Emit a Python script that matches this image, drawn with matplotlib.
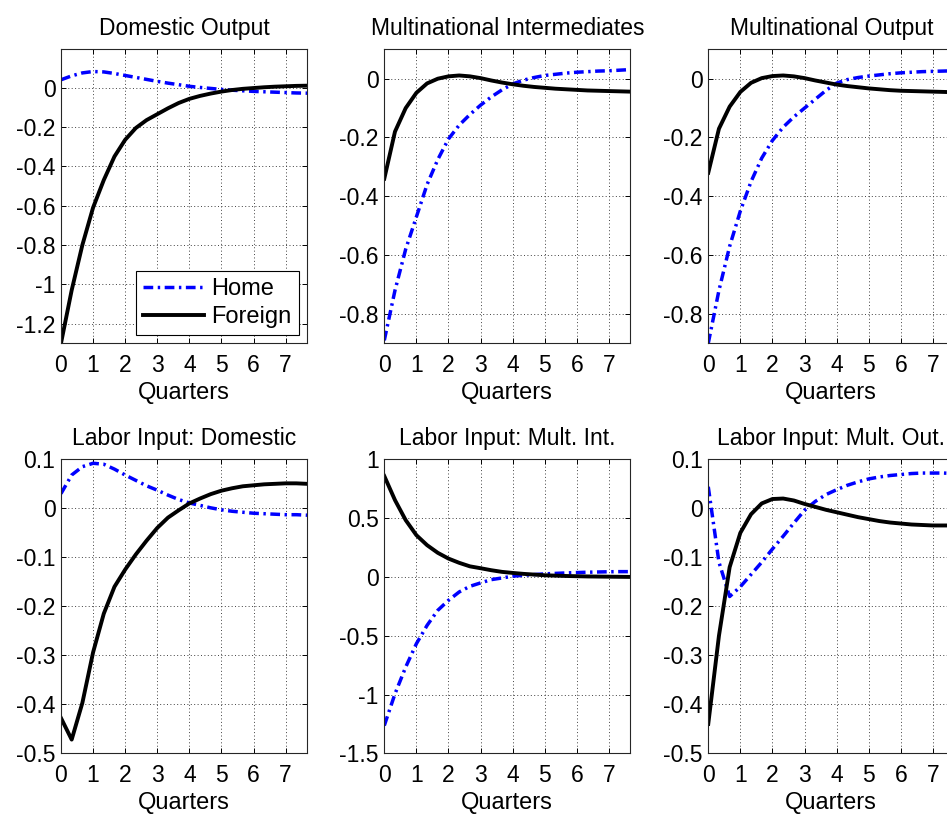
import numpy as np
import matplotlib
matplotlib.use('Agg')
import matplotlib.pyplot as plt
from matplotlib.ticker import MultipleLocator, FuncFormatter

plt.rcParams['font.family'] = ['Liberation Sans', 'DejaVu Sans']

# monthly points, shown in quarters
months = np.arange(24)
quarters = months / 3.0

titles = ['Domestic Output', 'Multinational Intermediates', 'Multinational Output',
          'Labor Input: Domestic', 'Labor Input: Mult. Int.', 'Labor Input: Mult. Out.']

dom_out_home = [0.040, 0.060, 0.075, 0.082, 0.080, 0.072, 0.062, 0.052, 0.042, 0.032, 0.023, 0.015,
                0.007, 0.001, -0.004, -0.009, -0.013, -0.016, -0.019, -0.021, -0.023, -0.025, -0.027, -0.028]
dom_out_foreign = [-1.30, -1.03, -0.80, -0.61, -0.47, -0.35, -0.265, -0.205, -0.165, -0.135, -0.105, -0.078,
                   -0.057, -0.042, -0.030, -0.020, -0.012, -0.006, -0.002, 0.002, 0.005, 0.007, 0.009, 0.010]

mult_int_home = [-0.89, -0.72, -0.58, -0.47, -0.36, -0.275, -0.205, -0.158, -0.122, -0.090, -0.062, -0.038,
                 -0.018, -0.005, 0.004, 0.011, 0.015, 0.019, 0.022, 0.024, 0.026, 0.027, 0.029, 0.031]
mult_int_foreign = [-0.34, -0.18, -0.100, -0.048, -0.016, 0.000, 0.008, 0.011, 0.008, 0.002, -0.006, -0.013,
                    -0.019, -0.024, -0.028, -0.031, -0.034, -0.036, -0.038, -0.040, -0.041, -0.042, -0.043, -0.044]

mult_out_home = [-0.90, -0.72, -0.57, -0.45, -0.35, -0.27, -0.21, -0.165, -0.13, -0.10, -0.07, -0.04,
                 -0.015, -0.003, 0.004, 0.009, 0.013, 0.017, 0.020, 0.022, 0.024, 0.025, 0.026, 0.027]
mult_out_foreign = [-0.32, -0.17, -0.095, -0.045, -0.014, 0.002, 0.009, 0.011, 0.008, 0.002, -0.006, -0.013,
                    -0.020, -0.025, -0.029, -0.033, -0.036, -0.039, -0.041, -0.042, -0.043, -0.044, -0.045, -0.046]

lab_dom_home = [0.030, 0.068, 0.085, 0.092, 0.090, 0.080, 0.068, 0.057, 0.046, 0.037, 0.027, 0.018,
                0.011, 0.006, 0.001, -0.003, -0.006, -0.008, -0.010, -0.011, -0.012, -0.013, -0.013, -0.014]
lab_dom_foreign = [-0.428, -0.472, -0.397, -0.294, -0.215, -0.160, -0.125, -0.094, -0.066, -0.040, -0.019, -0.004,
                   0.010, 0.020, 0.029, 0.036, 0.041, 0.045, 0.047, 0.049, 0.050, 0.051, 0.051, 0.050]

lab_int_home = [-1.264, -0.994, -0.767, -0.568, -0.412, -0.284, -0.199, -0.128, -0.080, -0.051, -0.023, -0.009,
                0.006, 0.014, 0.020, 0.026, 0.030, 0.034, 0.037, 0.040, 0.042, 0.044, 0.045, 0.045]
lab_int_foreign = [0.858, 0.653, 0.483, 0.355, 0.270, 0.205, 0.156, 0.120, 0.090, 0.074, 0.057, 0.043,
                   0.034, 0.026, 0.020, 0.014, 0.011, 0.008, 0.006, 0.004, 0.003, 0.002, 0.001, 0.000]

lab_out_home = [0.044, -0.11, -0.18, -0.16, -0.135, -0.11, -0.083, -0.057, -0.030, -0.004, 0.014, 0.028,
                0.038, 0.047, 0.054, 0.060, 0.064, 0.067, 0.069, 0.071, 0.072, 0.072, 0.072, 0.071]
lab_out_foreign = [-0.44, -0.26, -0.12, -0.05, -0.012, 0.010, 0.019, 0.020, 0.016, 0.009, 0.003, -0.003,
                   -0.008, -0.013, -0.018, -0.022, -0.026, -0.029, -0.031, -0.033, -0.034, -0.035, -0.035, -0.035]

home = [dom_out_home, mult_int_home, mult_out_home, lab_dom_home, lab_int_home, lab_out_home]
foreign = [dom_out_foreign, mult_int_foreign, mult_out_foreign, lab_dom_foreign, lab_int_foreign, lab_out_foreign]

ylims = [(-1.3, 0.195), (-0.9, 0.1), (-0.9, 0.1), (-0.5, 0.1), (-1.5, 1.0), (-0.5, 0.1)]
ysteps = [0.2, 0.2, 0.2, 0.1, 0.5, 0.1]

fig = plt.figure(figsize=(9.47, 8.15), dpi=100)

lefts = [0.0644, 0.4058, 0.7479]
bottoms = [0.5788, 0.0757]
w, h = 0.2598, 0.3607

fmt = FuncFormatter(lambda v, p: '%g' % (round(v, 6) + 0.0))

for i in range(6):
    ax = fig.add_axes([lefts[i % 3], bottoms[i // 3], w, h])
    ax.plot(quarters, home[i], color='b', lw=2.5, ls=(0, (2.8, 1.3, 0.7, 1.3)), label='Home')
    ax.plot(quarters, foreign[i], color='k', lw=2.8, label='Foreign')
    ax.set_xlim(0, 23 / 3.0)
    ax.set_ylim(*ylims[i])
    ax.xaxis.set_major_locator(MultipleLocator(1))
    ax.yaxis.set_major_locator(MultipleLocator(ysteps[i]))
    ax.yaxis.set_major_formatter(fmt)
    ax.grid(True, color='0.25', ls=(0, (1, 2.5)), lw=0.7)
    ax.tick_params(direction='in', top=True, right=True, length=3.5, width=0.7, labelsize=16.5)
    ax.tick_params(axis='x', pad=8)
    ax.tick_params(axis='y', pad=4)
    for s in ax.spines.values():
        s.set_linewidth(0.8)
        s.set_color('0.15')
    ax.set_title(titles[i], fontsize=16.5, pad=10)
    ax.set_xlabel('Quarters', fontsize=17, labelpad=3)
    if i == 0:
        leg = ax.legend(loc='lower right', fontsize=17, fancybox=False, framealpha=1,
                        edgecolor='k', handlelength=2.6, handletextpad=0.3,
                        borderaxespad=0.35, labelspacing=0.25, borderpad=0.3)
        leg.get_frame().set_linewidth(0.8)

fig.savefig('out.png', dpi=100)
